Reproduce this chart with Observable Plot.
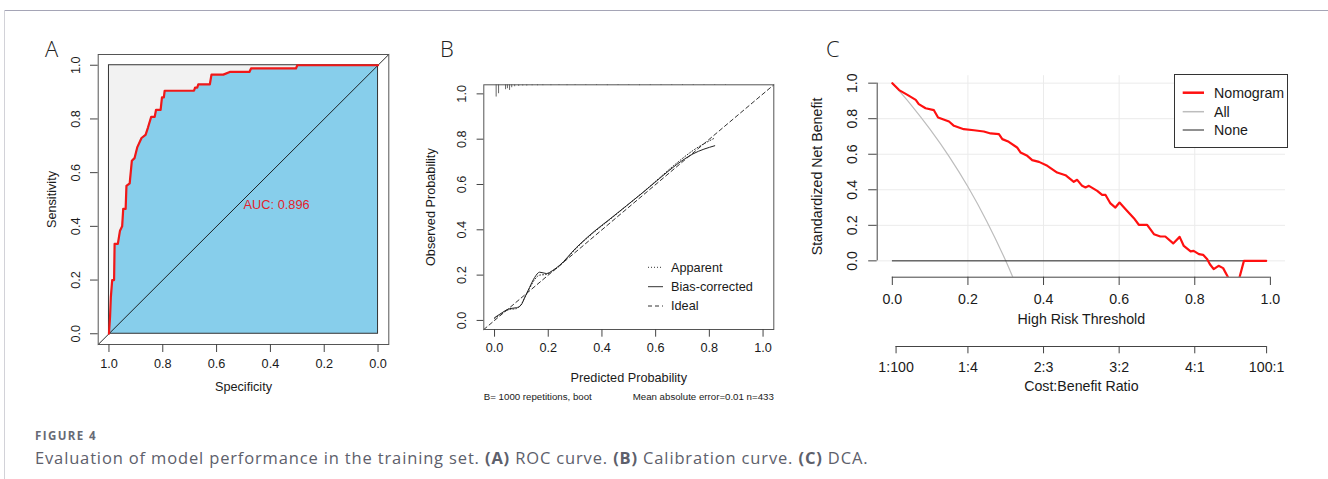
<!DOCTYPE html>
<html><head><meta charset="utf-8">
<script src="https://cdn.jsdelivr.net/npm/d3@7"></script>
<script src="https://cdn.jsdelivr.net/npm/@observablehq/plot@0.6"></script>
<style>
html,body{margin:0;padding:0;background:#fff;}
#wrap{position:relative;width:1328px;height:479px;overflow:hidden;background:#fff;}
</style></head><body><div id="wrap"></div>
<script>
// ---------------- Panel A: ROC curve ----------------
const rocSpec = [1.000,0.996,0.993,0.988,0.981,0.979,0.967,0.959,0.951,0.947,0.938,0.935,0.923,0.915,0.905,0.895,0.879,0.864,0.855,0.843,0.830,0.825,0.808,0.803,0.796,0.793,0.684,0.680,0.672,0.668,0.625,0.619,0.575,0.551,0.478,0.472,0.305,0.300,0.000];
const rocSens = [0.000,0.062,0.136,0.200,0.200,0.335,0.335,0.384,0.400,0.465,0.465,0.551,0.560,0.644,0.654,0.694,0.729,0.741,0.768,0.808,0.808,0.834,0.834,0.880,0.880,0.905,0.905,0.917,0.917,0.929,0.929,0.965,0.965,0.975,0.975,0.988,0.988,1.000,1.000];
const aucLabel = "AUC: 0.896";
const aucSpec = 0.5, aucSens = 0.48;
const ticksA = [0, 0.2, 0.4, 0.6, 0.8, 1.0];

// ---------------- Panel B: calibration ----------------
const calX  = [0.000,0.019,0.056,0.081,0.099,0.112,0.130,0.149,0.168,0.193,0.217,0.242,0.304,0.366,0.429,0.491,0.553,0.615,0.677,0.739,0.820];
const biasY = [0.012,0.027,0.052,0.056,0.068,0.100,0.145,0.189,0.213,0.207,0.221,0.243,0.321,0.388,0.447,0.506,0.565,0.627,0.687,0.735,0.771];
const appY  = [0.008,0.025,0.048,0.052,0.070,0.100,0.140,0.180,0.200,0.203,0.218,0.240,0.318,0.385,0.445,0.505,0.566,0.630,0.693,0.750,0.805];
const spikeX    = [0.006,0.015,0.041,0.048,0.056,0.064,0.075,0.09,0.105,0.12,0.14,0.16,0.18,0.21,0.24,0.27,0.3,0.34,0.38,0.42,0.46,0.5,0.54,0.58,0.62,0.66,0.7,0.74,0.78,0.82,0.86];
const spikeFreq = [1.0,0.73,0.4,0.32,0.46,0.24,0.16,0.13,0.1,0.1,0.08,0.08,0.07,0.07,0.06,0.07,0.06,0.06,0.06,0.07,0.06,0.06,0.07,0.06,0.06,0.06,0.06,0.06,0.05,0.05,0.05];
const ticksB = [0, 0.2, 0.4, 0.6, 0.8, 1.0];
const noteLeft = "B= 1000 repetitions, boot";
const noteRight = "Mean absolute error=0.01 n=433";
const legendB = ["Apparent", "Bias-corrected", "Ideal"];

// ---------------- Panel C: DCA ----------------
const nomoT  = [0,0.018,0.040,0.062,0.070,0.088,0.110,0.121,0.150,0.163,0.189,0.216,0.242,0.260,0.282,0.291,0.308,0.330,0.339,0.357,0.370,0.388,0.410,0.436,0.458,0.480,0.489,0.502,0.511,0.520,0.542,0.555,0.564,0.577,0.590,0.601,0.617,0.639,0.652,0.674,0.692,0.709,0.722,0.743,0.760,0.771,0.789,0.797,0.811,0.822,0.833,0.840,0.850,0.863,0.875,0.895,0.915,0.930,0.989];
const nomoNB = [1.000,0.961,0.934,0.906,0.882,0.859,0.848,0.807,0.784,0.760,0.741,0.735,0.728,0.717,0.713,0.685,0.670,0.638,0.610,0.591,0.567,0.557,0.535,0.497,0.482,0.445,0.456,0.422,0.413,0.422,0.394,0.371,0.371,0.323,0.300,0.328,0.291,0.240,0.203,0.203,0.150,0.137,0.137,0.098,0.135,0.084,0.053,0.056,0.038,0.034,0.009,-0.019,-0.047,-0.028,-0.041,-0.120,-0.120,0.000,0.000];
const allT  = [0, 0.05, 0.1, 0.15, 0.2, 0.25, 0.3, 0.33];
const allNB = [1, 0.877, 0.74, 0.588, 0.417, 0.222, 0.0, -0.149];
const noneT  = [0, 0.99];
const noneNB = [0, 0];
const ticksCx = [0, 0.2, 0.4, 0.6, 0.8, 1.0];
const ticksCy = [0, 0.2, 0.4, 0.6, 0.8, 1.0];
const cbTicks  = [0.0099, 0.2, 0.4, 0.6, 0.8, 0.99];
const cbLabels = ["1:100", "1:4", "2:3", "3:2", "4:1", "100:1"];
const legendC = ["Nomogram", "All", "None"];

// ---------------- build ----------------
const fmt = d3.format(".1f");
const FONT = "'Liberation Sans', Arial, Helvetica, sans-serif";
const INK = "#1a1a1a", AX = "#444";
const wrap = document.getElementById("wrap");
function place(el, left, top) {
  el.style.position = "absolute"; el.style.left = left + "px"; el.style.top = top + "px";
  wrap.appendChild(el); return el;
}
const baseStyle = (fs) => ({fontFamily: FONT, fontSize: fs + "px", background: "transparent", color: INK, overflow: "visible"});

// Panel A
const roc = rocSpec.map((s, i) => ({spec: s, sens: rocSens[i]}));
const xDomA = [1.04, -0.04], yDomA = [-0.04, 1.04];
const chanceA = xDomA.map(s => ({spec: s, sens: 1 - s}));
const boxA = {s0: ticksA[0], s1: ticksA[ticksA.length - 1]};
const fsA = 12.7;
place(Plot.plot({
  width: 380, height: 390, marginLeft: 77.7, marginRight: 11.7, marginTop: 34, marginBottom: 66,
  x: {domain: xDomA}, y: {domain: yDomA},
  style: baseStyle(fsA),
  marks: [
    Plot.rect([boxA], {x1: "s0", x2: "s1", y1: "s0", y2: "s1", fill: "#f2f2f2"}),
    Plot.areaY(roc, {x: "spec", y1: 0, y2: "sens", fill: "#87ceeb"}),
    Plot.rect([boxA], {x1: "s0", x2: "s1", y1: "s0", y2: "s1", fill: "none", stroke: "#333", strokeWidth: 1}),
    Plot.line(chanceA, {x: "spec", y: "sens", stroke: "#111", strokeWidth: 0.9}),
    Plot.line(roc, {x: "spec", y: "sens", stroke: "#f01818", strokeWidth: 2.2}),
    Plot.text([{spec: aucSpec, sens: aucSens, t: aucLabel}], {x: "spec", y: "sens", text: "t", textAnchor: "start", fill: "#e3232b", fontSize: 12.8}),
    Plot.frame({stroke: "#555"}),
    Plot.axisX(ticksA, {tickSize: 8, fill: "none", stroke: AX}),
    Plot.axisY(ticksA, {tickSize: 7.7, fill: "none", stroke: AX}),
    Plot.text(ticksA, {x: d => d, text: d => fmt(d), frameAnchor: "bottom", textAnchor: "middle", dy: 23.7}),
    Plot.text(ticksA, {y: d => d, text: d => fmt(d), frameAnchor: "left", textAnchor: "middle", dx: -22.7, rotate: -90}),
    Plot.text(["Specificity"], {text: d => d, frameAnchor: "bottom", textAnchor: "middle", dy: 46}),
    Plot.text(["Sensitivity"], {text: d => d, frameAnchor: "left", textAnchor: "middle", dx: -46, rotate: -90})
  ]
}), 20, 20);

// Panel B
const bias = calX.map((x, i) => ({x, y: biasY[i]}));
const app = calX.map((x, i) => ({x, y: appY[i]}));
const xDomB = [-0.04, 1.04], yDomB = [-0.04, 1.04];
const ideal = xDomB.map(v => ({x: v, y: v}));
const spikeMax = d3.max(spikeFreq);
const spikeLen = 0.05 * (yDomB[1] - yDomB[0]);
const spikes = spikeX.map((x, i) => ({x, y1: yDomB[1], y2: yDomB[1] - spikeFreq[i] / spikeMax * spikeLen}));
const fsB = 12.7;
place(Plot.plot({
  width: 380, height: 380, marginLeft: 73.3, marginRight: 16.7, marginTop: 54.3, marginBottom: 81,
  x: {domain: xDomB}, y: {domain: yDomB},
  style: baseStyle(fsB),
  marks: [
    Plot.ruleX(spikes, {x: "x", y1: "y1", y2: "y2", stroke: "#666", strokeWidth: 1}),
    Plot.line(ideal, {x: "x", y: "y", stroke: "#333", strokeWidth: 1, strokeDasharray: "4,3"}),
    Plot.line(app, {x: "x", y: "y", stroke: "#333", strokeWidth: 1, strokeDasharray: "1,2", curve: "monotone-x"}),
    Plot.line(bias, {x: "x", y: "y", stroke: "#222", strokeWidth: 1, curve: "monotone-x"}),
    Plot.frame({stroke: "#555"}),
    Plot.axisX(ticksB, {tickSize: 7.7, fill: "none", stroke: AX}),
    Plot.axisY(ticksB, {tickSize: 6.7, fill: "none", stroke: AX}),
    Plot.text(ticksB, {x: d => d, text: d => fmt(d), frameAnchor: "bottom", textAnchor: "middle", dy: 22.7}),
    Plot.text(ticksB, {y: d => d, text: d => fmt(d), frameAnchor: "left", textAnchor: "middle", dx: -21.6, rotate: -90}),
    Plot.text(["Predicted Probability"], {text: d => d, frameAnchor: "bottom", textAnchor: "middle", dy: 52.7}),
    Plot.text(["Observed Probability"], {text: d => d, frameAnchor: "left", textAnchor: "middle", dx: -53.3, rotate: -90}),
    Plot.text([noteLeft], {text: d => d, frameAnchor: "bottom-left", textAnchor: "start", dy: 70.3, fontSize: 9.7}),
    Plot.text([noteRight], {text: d => d, frameAnchor: "bottom-right", textAnchor: "end", dy: 70.3, fontSize: 9.7})
  ]
}), 410, 30);

// Panel C
const nomo = nomoT.map((t, i) => ({t, nb: nomoNB[i]}));
const allS = allT.map((t, i) => ({t, nb: allNB[i]}));
const noneS = noneT.map((t, i) => ({t, nb: noneNB[i]}));
const xDomC = [-0.04, 1.04], yDomC = [-0.092, 1.042];
const fsC = 14.2;
place(Plot.plot({
  width: 510, height: 310, marginLeft: 76.7, marginRight: 25, marginTop: 45.2, marginBottom: 63.3,
  x: {domain: xDomC}, y: {domain: yDomC},
  style: baseStyle(fsC),
  marks: [
    Plot.gridY(ticksCy, {stroke: "#ebebeb", strokeOpacity: 1}),
    Plot.gridX(ticksCx.slice(1, -1), {stroke: "#ebebeb", strokeOpacity: 1}),
    Plot.line(allS, {x: "t", y: "nb", stroke: "#bdbdbd", strokeWidth: 1.2, curve: "monotone-x", clip: true}),
    Plot.line(noneS, {x: "t", y: "nb", stroke: "#222", strokeWidth: 1}),
    Plot.line(nomo, {x: "t", y: "nb", stroke: "#ff1010", strokeWidth: 2.2, clip: true}),
    Plot.ruleX([xDomC[0]], {x: d => d, y1: ticksCy[0], y2: ticksCy[ticksCy.length - 1], stroke: AX}),
    Plot.ruleY([yDomC[0]], {y: d => d, x1: ticksCx[0], x2: ticksCx[ticksCx.length - 1], stroke: AX}),
    Plot.axisX(ticksCx, {tickSize: 8.3, fill: "none", stroke: AX}),
    Plot.axisY(ticksCy, {tickSize: 8.5, fill: "none", stroke: AX}),
    Plot.text(ticksCx, {x: d => d, text: d => fmt(d), frameAnchor: "bottom", textAnchor: "middle", dy: 26.6}),
    Plot.text(ticksCy, {y: d => d, text: d => fmt(d), frameAnchor: "left", textAnchor: "middle", dx: -25, rotate: -90}),
    Plot.text(["High Risk Threshold"], {text: d => d, frameAnchor: "bottom", textAnchor: "middle", dy: 46.6}),
    Plot.text(["Standardized Net Benefit"], {text: d => d, frameAnchor: "left", textAnchor: "middle", dx: -60, rotate: -90})
  ]
}), 800, 30);

// Panel C, second axis (cost:benefit)
place(Plot.plot({
  width: 510, height: 80, marginLeft: 76.7, marginRight: 25, marginTop: 10, marginBottom: 64,
  x: {domain: xDomC, axis: null}, y: {domain: [0, 1], axis: null},
  style: baseStyle(fsC),
  marks: [
    Plot.ruleY([0], {x1: cbTicks[0], x2: cbTicks[cbTicks.length - 1], stroke: AX}),
    Plot.axisX(cbTicks, {tickSize: 7.3, fill: "none", stroke: AX}),
    Plot.text(cbTicks, {x: d => d, text: (d, i) => cbLabels[i], frameAnchor: "bottom", textAnchor: "middle", dy: 25.7}),
    Plot.text(["Cost:Benefit Ratio"], {text: d => d, frameAnchor: "bottom", textAnchor: "middle", dy: 44.7})
  ]
}), 800, 330);

// ---------------- overlay: frame lines, panel letters, legends, caption ----------------
const ov = d3.select(wrap).append("svg")
  .attr("width", 1328).attr("height", 479)
  .style("position", "absolute").style("left", 0).style("top", 0)
  .style("pointer-events", "none");
ov.append("line").attr("x1", 4.5).attr("x2", 1328).attr("y1", 10.5).attr("y2", 10.5).attr("stroke", "#a5a5b6");
ov.append("line").attr("x1", 4.5).attr("x2", 4.5).attr("y1", 10.5).attr("y2", 479).attr("stroke", "#d2d2d8");

const letters = [["A", 45], ["B", 440], ["C", 826]];
ov.selectAll("text.pl").data(letters).join("text").attr("class", "pl")
  .attr("x", d => d[1]).attr("y", 56.7).text(d => d[0])
  .attr("font-family", "'Open Sans', 'Liberation Sans', sans-serif").attr("font-weight", 300)
  .attr("font-size", 22).attr("fill", "#222");

// legend B
const dashB = ["1,2", null, "4,3"];
const rowB = [267.3, 286.7, 306];
legendB.forEach((lab, i) => {
  ov.append("line").attr("x1", 648).attr("x2", 663).attr("y1", rowB[i]).attr("y2", rowB[i])
    .attr("stroke", "#333").attr("stroke-width", 1).attr("stroke-dasharray", dashB[i]);
  ov.append("text").attr("x", 671).attr("y", rowB[i]).attr("dy", "0.35em").text(lab)
    .attr("font-family", FONT).attr("font-size", fsB).attr("fill", INK);
});

// legend C
ov.append("rect").attr("x", 1174.5).attr("y", 74.5).attr("width", 113).attr("height", 73)
  .attr("fill", "#fff").attr("stroke", "#333").attr("stroke-width", 1);
const colC = ["#ff1010", "#bdbdbd", "#222"], wC = [2.5, 1.5, 1];
const rowC = [92.7, 111.7, 130];
legendC.forEach((lab, i) => {
  ov.append("line").attr("x1", 1182.7).attr("x2", 1204).attr("y1", rowC[i]).attr("y2", rowC[i])
    .attr("stroke", colC[i]).attr("stroke-width", wC[i]);
  ov.append("text").attr("x", 1214).attr("y", rowC[i]).attr("dy", "0.35em").text(lab)
    .attr("font-family", FONT).attr("font-size", fsC).attr("fill", INK);
});

// caption
ov.append("text").attr("x", 35).attr("y", 440).text("FIGURE 4")
  .attr("font-family", "'Open Sans', sans-serif").attr("font-weight", 700)
  .attr("font-size", 11.5).attr("letter-spacing", 1.4).attr("fill", "#676a75");
const cap = ov.append("text").attr("x", 35).attr("y", 464.3)
  .attr("font-family", "'Open Sans', sans-serif").attr("font-size", 16.5)
  .attr("letter-spacing", 0.85).attr("fill", "#5d606b");
[["Evaluation of model performance in the training set. ", 400], ["(A)", 700], [" ROC curve. ", 400],
 ["(B)", 700], [" Calibration curve. ", 400], ["(C)", 700], [" DCA.", 400]]
  .forEach(([t, w]) => cap.append("tspan").attr("font-weight", w).text(t));
</script></body></html>
